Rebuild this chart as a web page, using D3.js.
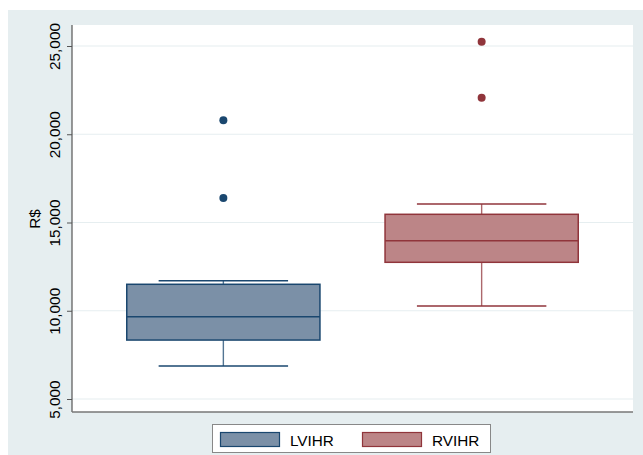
<!DOCTYPE html>
<html>
<head>
<meta charset="utf-8">
<script src="https://cdn.jsdelivr.net/npm/d3@7"></script>
<style>
  html, body { margin: 0; padding: 0; background: #ffffff; }
  svg { display: block; font-family: "Liberation Sans", Arial, Helvetica, sans-serif; }
</style>
</head>
<body>
<svg id="chart" width="643" height="455"></svg>
<script>
// Box-plot summaries per group: [lower whisker, Q1, median, Q3, upper whisker]
const groups = ["LVIHR", "RVIHR"];
const lowerWhisker = [6870, 10270];
const q1 = [8340, 12745];
const median = [9660, 13970];
const q3 = [11500, 15465];
const upperWhisker = [11700, 16050];
const outliers = [[20800, 16390], [25240, 22070]];
const yTicks = [5000, 10000, 15000, 20000, 25000];
const strokeColors = ["#1a476f", "#90353b"];
const fillColors = ["#7b90a7", "#bc8587"];

const svg = d3.select("#chart");
const W = 643, H = 455;
const plot = { left: 72, right: 633, top: 25, bottom: 412 };

// Outer graph region
svg.append("rect").attr("x", 8).attr("y", 10).attr("width", W - 8).attr("height", H - 10)
  .attr("fill", "#e6eef0");
svg.append("rect").attr("x", plot.left).attr("y", plot.top)
  .attr("width", plot.right - plot.left).attr("height", plot.bottom - plot.top)
  .attr("fill", "#ffffff");

const y = d3.scaleLinear().domain([4264, 26190]).range([plot.bottom, plot.top]);
const x = d3.scaleBand().domain(groups).range([plot.left, plot.right])
  .paddingInner(0.252).paddingOuter(0.212);

// Gridlines
svg.append("g").selectAll("line").data(yTicks).join("line")
  .attr("x1", plot.left).attr("x2", plot.right)
  .attr("y1", d => y(d)).attr("y2", d => y(d))
  .attr("stroke", "#e6eef0").attr("stroke-width", 1.2);

// Y axis
const fmt = d3.format(",");
const yAxis = svg.append("g").attr("transform", `translate(${plot.left},0)`)
  .call(d3.axisLeft(y).tickValues(yTicks).tickSize(5).tickPadding(6).tickFormat(fmt));
yAxis.select(".domain").attr("stroke", "#555").attr("stroke-width", 1.2)
  .attr("d", `M0,${plot.top}V${plot.bottom}`);
yAxis.selectAll(".tick line").attr("stroke", "#555");
yAxis.selectAll(".tick text")
  .attr("fill", "#000").attr("font-size", 15.3)
  .attr("transform", "rotate(-90)")
  .attr("x", 0).attr("y", -12.5)
  .attr("dy", 0)
  .attr("text-anchor", "middle");

// Bottom frame line
svg.append("line").attr("x1", plot.left).attr("x2", plot.right)
  .attr("y1", plot.bottom).attr("y2", plot.bottom)
  .attr("stroke", "#777").attr("stroke-width", 1.5);

// Y axis title
svg.append("text").attr("transform", `translate(39.5,219) rotate(-90)`)
  .attr("text-anchor", "middle").attr("font-size", 15.3).attr("fill", "#000").text("R$");

// Boxes
const bw = x.bandwidth();
const capW = bw * 0.67;
groups.forEach((g, i) => {
  const cx = x(g) + bw / 2;
  const gr = svg.append("g");
  const sc = strokeColors[i];
  // whiskers
  gr.append("line").attr("x1", cx).attr("x2", cx)
    .attr("y1", y(q3[i])).attr("y2", y(upperWhisker[i]))
    .attr("stroke", sc).attr("stroke-width", 1.4).attr("stroke-opacity", 0.75);
  gr.append("line").attr("x1", cx).attr("x2", cx)
    .attr("y1", y(q1[i])).attr("y2", y(lowerWhisker[i]))
    .attr("stroke", sc).attr("stroke-width", 1.4).attr("stroke-opacity", 0.75);
  [upperWhisker[i], lowerWhisker[i]].forEach(v => {
    gr.append("line").attr("x1", cx - capW / 2).attr("x2", cx + capW / 2)
      .attr("y1", y(v)).attr("y2", y(v))
      .attr("stroke", sc).attr("stroke-width", 1.4);
  });
  // box
  gr.append("rect").attr("x", x(g)).attr("width", bw)
    .attr("y", y(q3[i])).attr("height", y(q1[i]) - y(q3[i]))
    .attr("fill", fillColors[i]).attr("stroke", sc).attr("stroke-width", 1.5);
  gr.append("line").attr("x1", x(g)).attr("x2", x(g) + bw)
    .attr("y1", y(median[i])).attr("y2", y(median[i]))
    .attr("stroke", sc).attr("stroke-width", 1.5);
  // outside values
  gr.selectAll("circle").data(outliers[i]).join("circle")
    .attr("cx", cx).attr("cy", d => y(d)).attr("r", 4)
    .attr("fill", sc);
});

// Legend
const lg = svg.append("g");
lg.append("rect").attr("x", 212.5).attr("y", 424.5).attr("width", 278).attr("height", 28)
  .attr("fill", "#ffffff").attr("stroke", "#888").attr("stroke-width", 1);
const legendPos = [{ kx: 220, tx: 290 }, { kx: 362, tx: 432 }];
groups.forEach((g, i) => {
  lg.append("rect").attr("x", legendPos[i].kx + 0.5).attr("y", 432.5)
    .attr("width", 59).attr("height", 14)
    .attr("fill", fillColors[i]).attr("stroke", strokeColors[i]).attr("stroke-width", 1.2);
  lg.append("text").attr("x", legendPos[i].tx).attr("y", 446)
    .attr("font-size", 15.3).attr("fill", "#000").text(g);
});
</script>
</body>
</html>
